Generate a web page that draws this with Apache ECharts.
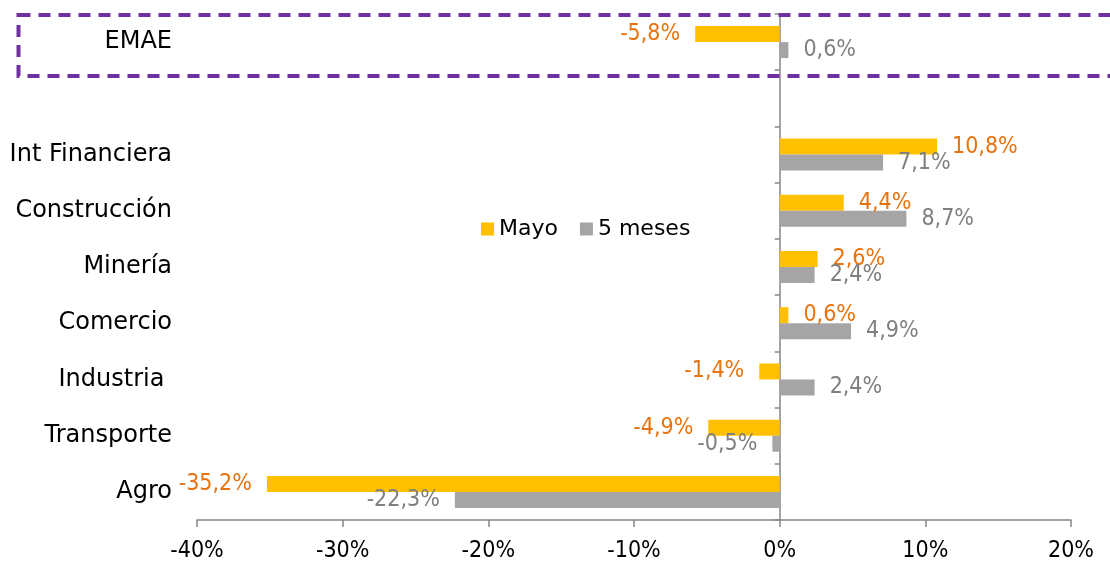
<!DOCTYPE html>
<html><head><meta charset="utf-8">
<script src="https://cdn.jsdelivr.net/npm/echarts@6/dist/echarts.min.js"></script>
<style>html,body{margin:0;padding:0;background:#fff}#c{width:1110px;height:564px}</style>
</head><body><div id="c"></div>
<script>
const categories = ['Agro','Transporte','Industria ','Comercio','Minería','Construcción','Int Financiera','','EMAE'];
const mayo = [-35.2,-4.9,-1.4,0.6,2.6,4.4,10.8,null,-5.8];
const cincoMeses = [-22.3,-0.5,2.4,4.9,2.4,8.7,7.1,null,0.6];
const xTicks = [-40,-30,-20,-10,0,10,20];

const numFont = '"DejaVu Sans Condensed","Liberation Sans Narrow","DejaVu Sans",sans-serif';
const txtFont = '"DejaVu Sans",sans-serif';
const fmt = v => v.toFixed(1).replace('.', ',') + '%';
const withLabels = arr => arr.map(v => v == null ? null : ({
  value: v,
  label: { position: v < 0 ? 'left' : 'right' }
}));

const chart = echarts.init(document.getElementById('c'));
chart.setOption({
  animation: false,
  grid: { left: 197, right: 39, top: 14, bottom: 44, containLabel: false },
  legend: {
    data: ['Mayo', '5 meses'],
    left: 476, top: 213,
    itemWidth: 13, itemHeight: 13, itemGap: 22,
    icon: 'rect',
    textStyle: { fontFamily: txtFont, fontSize: 22, color: '#000' }
  },
  xAxis: {
    type: 'value',
    min: xTicks[0], max: xTicks[xTicks.length - 1], interval: 10,
    axisLine: { show: true, onZero: false, lineStyle: { color: '#868686', width: 1.5 } },
    axisTick: { show: true, length: 7, lineStyle: { color: '#868686', width: 1.5 } },
    splitLine: { show: false },
    axisLabel: { formatter: v => v + '%', fontFamily: numFont, fontSize: 23, color: '#000', margin: 20 }
  },
  yAxis: [
    {
      type: 'category', data: categories, position: 'left',
      axisLine: { show: false, onZero: false },
      axisTick: { show: false },
      axisLabel: { fontFamily: txtFont, fontSize: 24, color: '#000', margin: 25, align: 'right', padding: [3, 0, 0, 0] }
    },
    {
      type: 'category', data: categories, position: 'left',
      axisLine: { show: true, onZero: true, lineStyle: { color: '#868686', width: 1.5 } },
      axisTick: { show: true, length: 5, lineStyle: { color: '#868686', width: 1.5 } },
      axisLabel: { show: false }
    }
  ],
  series: [
    {
      name: 'Mayo', type: 'bar', yAxisIndex: 0,
      data: withLabels(mayo),
      barWidth: 16, barGap: '0%',
      itemStyle: { color: '#FFC000' },
      label: { show: true, distance: 15, formatter: p => fmt(p.value), fontFamily: numFont, fontSize: 23, color: '#E8730E' }
    },
    {
      name: '5 meses', type: 'bar', yAxisIndex: 0,
      data: withLabels(cincoMeses),
      barWidth: 16, barGap: '0%',
      itemStyle: { color: '#A5A5A5' },
      label: { show: true, distance: 15, formatter: p => fmt(p.value), fontFamily: numFont, fontSize: 23, color: '#7F7F7F' }
    }
  ],
  graphic: [
    {
      type: 'rect', silent: true, z: 100,
      shape: { x: 18.5, y: 15, width: 1120, height: 61 },
      style: { fill: 'none', stroke: '#7030A0', lineWidth: 4, lineDash: [12, 8] }
    }
  ]
});
</script></body></html>
